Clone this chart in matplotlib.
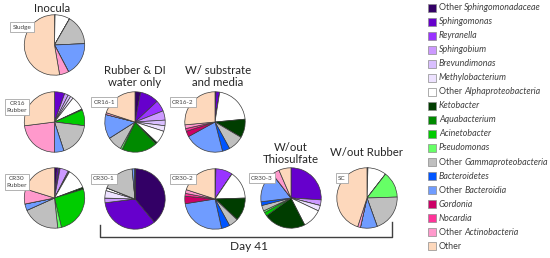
import matplotlib
matplotlib.use("Agg")
import matplotlib.pyplot as plt
from matplotlib.patches import Rectangle
from matplotlib.lines import Line2D

plt.rcParams['font.family'] = ['Lato', 'DejaVu Sans']

W, H = 550, 258

categories = ["Other Sphingomonadaceae", "Sphingomonas", "Reyranella", "Sphingobium",
              "Brevundimonas", "Methylobacterium", "Other Alphaproteobacteria", "Ketobacter",
              "Aquabacterium", "Acinetobacter", "Pseudomonas", "Other Gammaproteobacteria",
              "Bacteroidetes", "Other Bacteroidia", "Gordonia", "Nocardia",
              "Other Actinobacteria", "Other"]
italic_part = [("Other ", "Sphingomonadaceae"), ("", "Sphingomonas"), ("", "Reyranella"),
               ("", "Sphingobium"), ("", "Brevundimonas"), ("", "Methylobacterium"),
               ("Other ", "Alphaproteobacteria"), ("", "Ketobacter"), ("", "Aquabacterium"),
               ("", "Acinetobacter"), ("", "Pseudomonas"), ("Other ", "Gammaproteobacteria"),
               ("", "Bacteroidetes"), ("Other ", "Bacteroidia"), ("", "Gordonia"),
               ("", "Nocardia"), ("Other ", "Actinobacteria"), ("Other", "")]
colors = ["#330066", "#6600cc", "#9933ff", "#cc99ff", "#d9bfff", "#ede2ff", "#ffffff",
          "#003d00", "#008a00", "#00cc00", "#66ff66", "#bfbfbf", "#0055ff", "#6f9cff",
          "#cc0066", "#ff3399", "#ff99cc", "#fdd8bc"]

#               OS   Sph  Rey  Sphb Brev Meth OA   Keto Aqua Acin Pseu OG   Bact OB   Gord Noc  OAct Other
sludge      = [0.3, 0,   0,   0,   0,   0,   8,   0,   0,   0,   0,   16,  0,   18,  0,   0,   5,   52.7]
cr16_rubber = [0,   5.5, 0,   2,   1.5, 1.5, 7.5, 0.5, 0,   8.5, 0,   18,  0,   5,   0,   0,   23,  27]
cr30_rubber = [1.5, 1,   0.5, 4.5, 0.5, 0.3, 11,  1,   0,   26,  2,   20,  0,   3.5, 0,   0,   8,   20.2]
cr16_1      = [3,   10,  6,   5,   3,   3,   7,   1,   19,  0,   1,   8,   0,   13,  0,   0,   1,   20]
cr16_2      = [0.5, 2,   0,   0,   0,   0,   21,  10,  0,   0,   0,   8.5, 4,   21,  3,   1.5, 2,   26.5]
cr30_1      = [39,  34,  0,   2.5, 0,   4,   1.5, 0,   0,   0,   0,   17.5,0,   1.5, 0,   0,   0,   0]
cr30_2      = [0.5, 0,   9,   0,   0,   0,   15,  12.5,0,   0,   0,   5,   4.5, 26,  4,   1.5, 2,   20]
cr30_3      = [0,   26,  0,   3,   0,   3,   10.5,22.5,0,   2,   1,   3,   2,   16.5,0,   0,   4,   6.5]
sc          = [0.5, 0,   0,   0,   0,   0,   10,  0,   0,   0,   14,  20,  0,   9,   0,   0,   1.5, 45]

samples = ["Sludge", "CR16\nRubber", "CR30\nRubber", "CR16-1", "CR16-2",
           "CR30-1", "CR30-2", "CR30-3", "SC"]
sample_values = [sludge, cr16_rubber, cr30_rubber, cr16_1, cr16_2, cr30_1, cr30_2, cr30_3, sc]

# layout (pixels)
centers = [(54.5, 45), (54.5, 122), (54.5, 198), (135, 122), (215, 122),
           (135, 199), (215, 199), (291, 198), (367, 198)]
label_pos = [(22, 27), (17, 107), (17, 182), (104, 102), (183, 102),
             (104, 179), (183, 179), (262, 178), (342, 178)]
R = 30.5

fig = plt.figure(figsize=(W / 100, H / 100), dpi=100)
fig.patch.set_facecolor("white")


def fx(x):
    return x / W


def fy(y):
    return 1 - y / H


for vals, (cx, cy) in zip(sample_values, centers):
    ax = fig.add_axes([fx(cx - R), fy(cy + R), 2 * R / W, 2 * R / H])
    ax.pie(vals, colors=colors, startangle=90, counterclock=False,
           wedgeprops=dict(edgecolor="#3a3a3a", linewidth=0.5), normalize=True)
    ax.set_xlim(-1.01, 1.01)
    ax.set_ylim(-1.01, 1.01)
    ax.set_aspect("equal")
    ax.axis("off")

for name, (lx, ly) in zip(samples, label_pos):
    fig.text(fx(lx), fy(ly), name, ha="center", va="center", fontsize=4.6,
             color="#404040", linespacing=1.5,
             bbox=dict(boxstyle="square,pad=0.35", facecolor="white",
                       edgecolor="#a6a6a6", linewidth=0.6))

title_kw = dict(ha="center", va="center", fontsize=8.2, color="#262626", linespacing=1.2)
fig.text(fx(52), fy(8), "Inocula", **title_kw)
fig.text(fx(135), fy(76.5), "Rubber & DI\nwater only", **title_kw)
fig.text(fx(218), fy(76.5), "W/ substrate\nand media", **title_kw)
fig.text(fx(291), fy(153.5), "W/out\nThiosulfate", **title_kw)
fig.text(fx(367), fy(153), "W/out Rubber", **title_kw)

# bracket
br = fig.add_axes([0, 0, 1, 1], facecolor="none")
br.set_xlim(0, W)
br.set_ylim(H, 0)
br.axis("off")
br.add_line(Line2D([100, 100, 392, 392], [225, 237, 237, 222], color="#404040", linewidth=1.0))
br.text(249, 247, "Day 41", ha="center", va="center", fontsize=8.6, color="#262626")

# legend
fig.canvas.draw()
renderer = fig.canvas.get_renderer()
for i, (cat, col, (plain, ital)) in enumerate(zip(categories, colors, italic_part)):
    y = 7.5 + i * 14.05
    br.add_patch(Rectangle((428, y - 4), 8, 8, facecolor=col, edgecolor="#8c8c8c", linewidth=0.5))
    t = br.text(439, y, plain, ha="left", va="center", fontsize=6.4, color="#404040")
    if ital:
        if plain:
            bb = t.get_window_extent(renderer=renderer)
            x2 = bb.x1
        else:
            x2 = 439
        br.text(x2, y, ital, ha="left", va="center", fontsize=6.4, color="#404040", style="italic")

fig.savefig("out.png", dpi=100, facecolor="white")
